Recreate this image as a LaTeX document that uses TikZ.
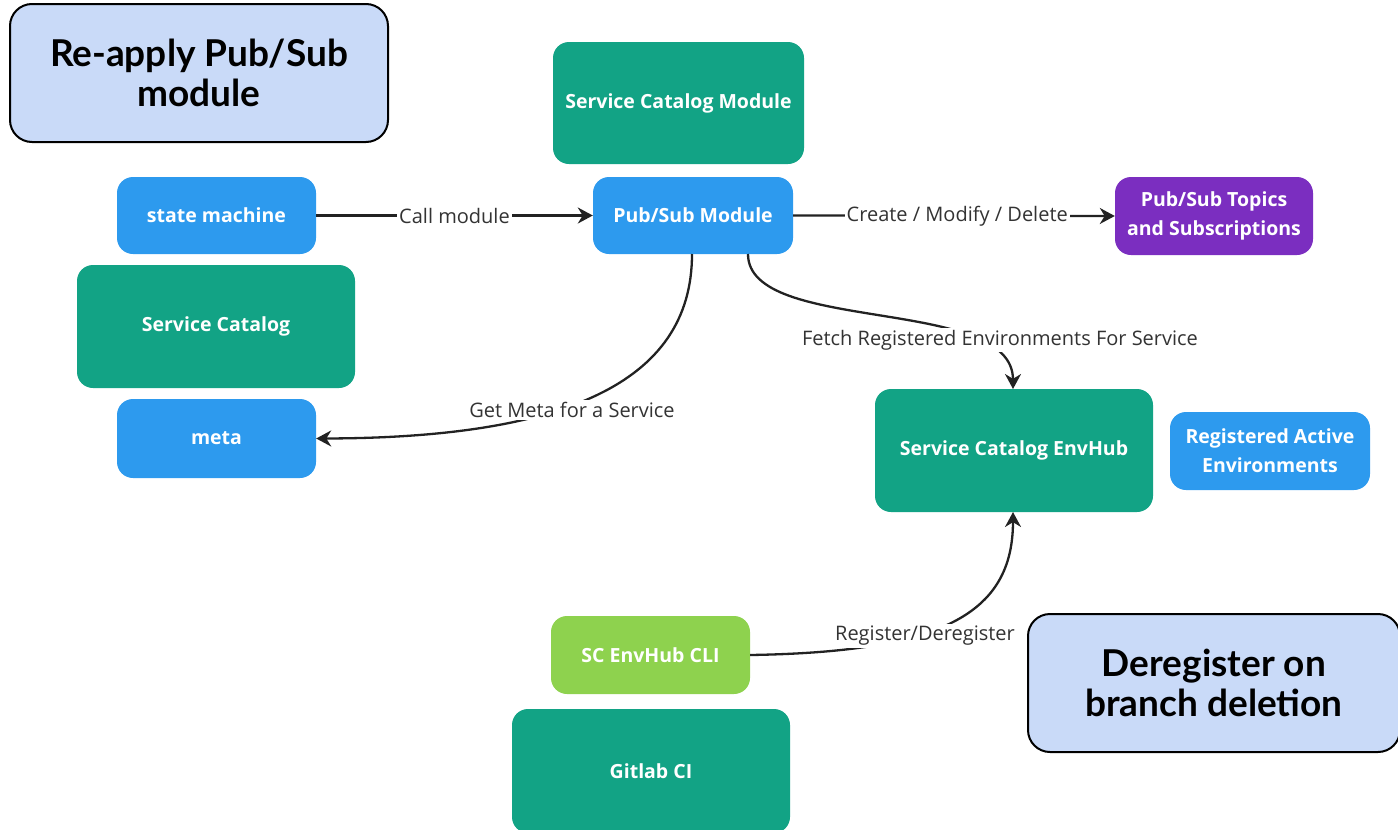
\documentclass[tikz,border=0pt]{standalone}
\usepackage{fontspec}
\setmainfont{Open Sans}
\newfontfamily\callfont{Lato}
\usetikzlibrary{arrows.meta}
\definecolor{tealc}{HTML}{12A385}
\definecolor{bluec}{HTML}{2D9AEE}
\definecolor{purplec}{HTML}{7B2EC0}
\definecolor{greenc}{HTML}{8ED24E}
\definecolor{notec}{HTML}{C9DAF8}
\definecolor{labc}{HTML}{333333}
\definecolor{linec}{HTML}{222222}
\tikzset{
  box/.style={rounded corners=16pt, inner sep=0pt, align=center, text=white,
    font=\fontsize{19.5}{29}\selectfont\bfseries},
  tealbox/.style={box, fill=tealc},
  bluebox/.style={box, fill=bluec},
  purplebox/.style={box, fill=purplec},
  greenbox/.style={box, fill=greenc},
  notebox/.style={rounded corners=22pt, draw=black, line width=2pt, fill=notec, inner sep=0pt,
    align=center, font=\callfont\fontsize{37}{40}\selectfont\bfseries},
  conn/.style={draw=linec, line width=2.3pt, -{Stealth[length=15pt,width=16pt]}},
  elab/.style={fill=white, inner sep=2pt, text=labc, font=\fontsize{20}{24}\selectfont}
}
\begin{document}
\begin{tikzpicture}[x=1pt,y=-1pt]
\useasboundingbox (0,0) rectangle (1398,830);
% notes
\node[notebox, minimum width=378pt, minimum height=138pt] (n1) at (199,73) {Re-apply Pub/Sub\\module};
\node[notebox, minimum width=372pt, minimum height=138pt] (n2) at (1214,683) {Deregister on\\branch deletion};
% boxes
\node[tealbox, minimum width=251pt, minimum height=122pt] (scm) at (678.5,103) {Service Catalog Module};
\node[bluebox, minimum width=199pt, minimum height=77pt] (sm) at (216.5,215.5) {state machine};
\node[bluebox, minimum width=200pt, minimum height=77pt] (ps) at (693,215.5) {Pub/Sub Module};
\node[purplebox, minimum width=198pt, minimum height=78pt] (pt) at (1214,216) {Pub/Sub Topics\\and Subscriptions};
\node[tealbox, minimum width=278pt, minimum height=123pt] (sc) at (216,326.5) {Service Catalog};
\node[bluebox, minimum width=199pt, minimum height=79pt] (meta) at (216.5,438.5) {meta};
\node[tealbox, minimum width=278pt, minimum height=123pt] (eh) at (1014,450.5) {Service Catalog EnvHub};
\node[bluebox, minimum width=200pt, minimum height=78pt] (rae) at (1270,451) {Registered Active\\Environments};
\node[greenbox, minimum width=199pt, minimum height=78pt] (cli) at (650.5,655) {SC EnvHub CLI};
\node[tealbox, minimum width=278pt, minimum height=124pt] (gl) at (651,771) {Gitlab CI};
% connectors
\draw[conn] (sm.east) -- node[elab] (l1) {Call module} (ps.west);
\draw[conn] (ps.east) -- node[elab, pos=0.51] (l2) {Create / Modify / Delete} (pt.west);
\coordinate (ps1) at (692,254);
\coordinate (ps2) at (748,254);
\coordinate (ehT) at (1013,389);
\coordinate (ehB) at (1013,512);
\draw[conn] (ps1) .. controls (692,385) and (560,438) .. (meta.east);
\node[elab] (l3) at (572,410) {Get Meta for a Service};
\draw[conn] (ps2) .. controls (748,335) and (1013,295) .. (ehT);
\node[elab] (l4) at (1000,340) {Fetch Registered Environments For Service};
\draw[conn] (cli.east) .. controls (940,652) and (1013,615) .. (ehB);
\node[elab] (l5) at (925,636) {Register/Deregister};
\end{tikzpicture}
\end{document}
